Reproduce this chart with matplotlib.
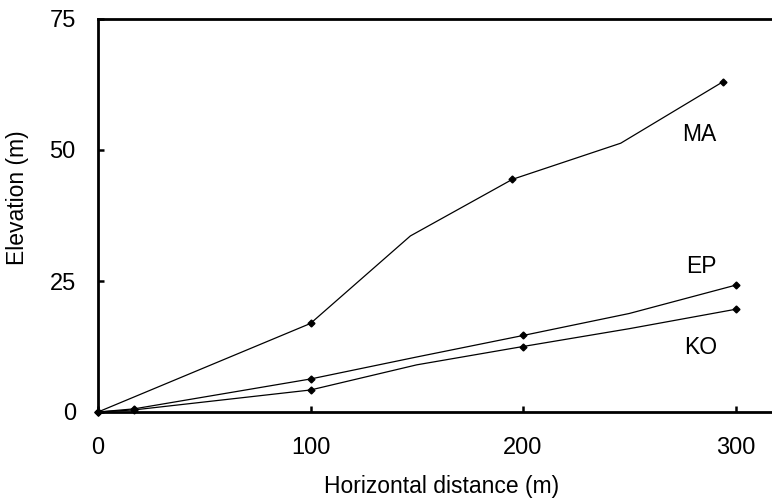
import numpy as np
import matplotlib.pyplot as plt

plt.rcParams['font.family'] = ['Liberation Sans', 'DejaVu Sans']

# profile data (horizontal distance m, elevation m)
ma_x = [0, 100, 147, 195, 246, 294]
ma_y = [0, 16.9, 33.6, 44.4, 51.3, 63.0]
ma_marked = [0, 1, 3, 5]

ep_x = [0, 17, 100, 150, 200, 250, 300]
ep_y = [0, 0.6, 6.3, 10.5, 14.6, 18.8, 24.2]
ep_marked = [0, 1, 2, 4, 6]

ko_x = [0, 17, 100, 150, 200, 250, 300]
ko_y = [0, 0.4, 4.2, 9.0, 12.5, 15.9, 19.6]
ko_marked = [0, 1, 2, 4, 6]

x_ticks = [0, 100, 200, 300]
y_ticks = [0, 25, 50, 75]

fig = plt.figure(figsize=(7.72, 4.99), dpi=100)
ax = fig.add_axes([98 / 772, 87 / 499, 680 / 772, 393 / 499])

for xs, ys, mk in [(ma_x, ma_y, ma_marked), (ep_x, ep_y, ep_marked), (ko_x, ko_y, ko_marked)]:
    ax.plot(xs, ys, color='black', lw=0.9, marker='D', markersize=3.5,
            markevery=mk, clip_on=False)

ax.text(283, 52.9, 'MA', fontsize=16.5, ha='center', va='center')
ax.text(284, 27.7, 'EP', fontsize=16.5, ha='center', va='center')
ax.text(283.5, 12.3, 'KO', fontsize=16.5, ha='center', va='center')

ax.set_xlim(0, 320)
ax.set_ylim(0, 75)
ax.set_xticks(x_ticks)
ax.set_yticks(y_ticks)
ax.tick_params(direction='in', length=4, width=1.8, labelsize=17, colors='black')
ax.tick_params(axis='y', pad=16)
ax.tick_params(axis='x', pad=18)
for side in ['left', 'bottom', 'top']:
    ax.spines[side].set_linewidth(2)
ax.spines['right'].set_visible(False)

ax.set_xlabel('Horizontal distance (m)', fontsize=16.5, va='center')
ax.set_ylabel('Elevation (m)', fontsize=16.5, va='center', ha='center')
ax.xaxis.set_label_coords(0.505, -0.19)
ax.yaxis.set_label_coords(-0.118, 0.545)

fig.savefig('out.png', dpi=100)
